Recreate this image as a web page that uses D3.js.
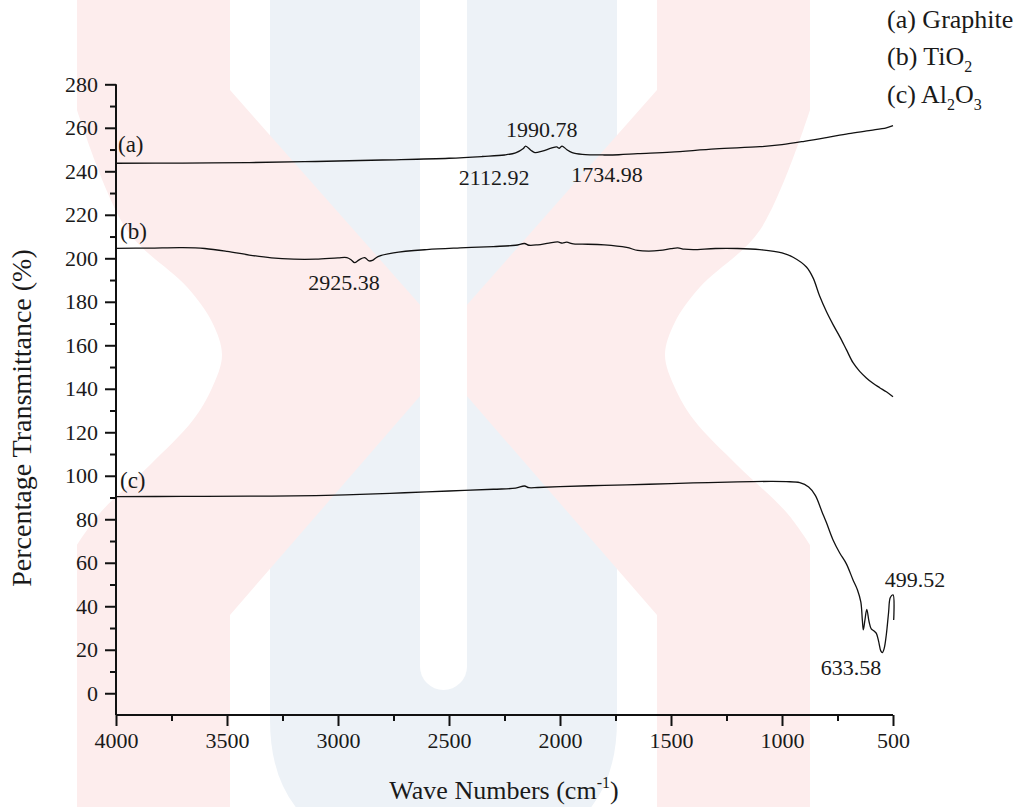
<!DOCTYPE html>
<html>
<head>
<meta charset="utf-8">
<script src="https://cdn.jsdelivr.net/npm/d3@7"></script>
<style>
  html, body { margin: 0; padding: 0; background: #fff; }
  svg { display: block; }
  text { font-family: "Liberation Serif", "Times New Roman", serif; fill: #1a1a1a; }
</style>
</head>
<body>
<svg id="chart" width="1025" height="807"></svg>
<script>
// FTIR spectra: wavenumber (cm-1) vs. percentage transmittance, curves offset vertically.

// (a) Graphite
const waveA  = [4000, 3700, 3400, 3100, 2800, 2500, 2350, 2250, 2200, 2165, 2155, 2130, 2112.92, 2080, 2040, 2015, 2003, 1990.78, 1970, 1945, 1900, 1800, 1734.98, 1650, 1500, 1300, 1100, 1000, 900, 800, 700, 600, 530, 500];
const transA = [243.7, 243.8, 244.0, 244.5, 245.2, 246.0, 246.8, 247.5, 248.5, 250.5, 251.6, 249.6, 248.6, 249.3, 250.6, 251.2, 250.6, 251.6, 250.0, 248.6, 247.8, 247.5, 247.6, 248.1, 248.8, 250.3, 251.3, 252.3, 253.8, 255.5, 257.3, 258.8, 260.0, 261.0];

// (b) TiO2
const waveB  = [4000, 3850, 3700, 3600, 3500, 3400, 3300, 3200, 3100, 3000, 2960, 2940, 2925.38, 2905, 2880, 2860, 2845, 2820, 2750, 2600, 2450, 2300, 2200, 2160, 2140, 2100, 2050, 2010, 1990, 1970, 1940, 1900, 1800, 1700, 1650, 1600, 1550, 1500, 1470, 1440, 1400, 1300, 1200, 1100, 1000, 950, 890, 860, 830, 800, 770, 740, 710, 680, 650, 620, 590, 560, 530, 500];
const transB = [204.6, 204.7, 204.9, 204.5, 203.2, 201.5, 200.2, 199.6, 199.6, 200.2, 200.3, 199.2, 198.0, 199.3, 200.3, 198.8, 199.0, 200.8, 202.5, 204.0, 204.8, 205.4, 206.0, 206.8, 206.0, 206.2, 207.0, 207.5, 207.0, 207.4, 206.6, 206.5, 206.2, 205.0, 203.6, 203.3, 203.6, 204.4, 204.8, 204.2, 204.0, 204.5, 204.5, 204.0, 202.5, 200.5, 196.0, 191.0, 182.5, 175.5, 169.5, 164.0, 158.0, 152.0, 148.0, 145.0, 142.5, 140.5, 138.6, 136.3];

// (c) Al2O3
const waveC  = [4000, 3700, 3400, 3100, 2900, 2700, 2500, 2300, 2200, 2160, 2140, 2100, 2000, 1800, 1600, 1400, 1200, 1050, 980, 920, 880, 850, 820, 800, 770, 740, 710, 680, 660, 645, 638, 633.58, 626, 618, 608, 598, 585, 575, 565, 555, 548, 540, 530, 520, 512, 499.52, 497];
const transC = [90.4, 90.5, 90.6, 90.9, 91.4, 92.2, 93.0, 93.8, 94.3, 95.3, 94.5, 94.6, 95.0, 95.6, 96.1, 96.7, 97.2, 97.4, 97.3, 96.8, 94.8, 91.0, 83.5, 78.5, 70.5, 64.5, 59.5, 52.1, 47.5, 42.0, 33.5, 29.1, 34.0, 38.6, 33.0, 29.6, 28.6, 27.5, 24.0, 19.5, 18.7, 20.5, 27.0, 37.0, 44.0, 45.2, 33.7];

// Axis ticks
const xMajorTicks = [4000, 3500, 3000, 2500, 2000, 1500, 1000, 500];
const xMinorTicks = [3750, 3250, 2750, 2250, 1750, 1250, 750];
const yMajorTicks = [0, 20, 40, 60, 80, 100, 120, 140, 160, 180, 200, 220, 240, 260, 280];
const yMinorTicks = [10, 30, 50, 70, 90, 110, 130, 150, 170, 190, 210, 230, 250, 270];

// Peak annotations: text, wavenumber anchor, transmittance anchor (baseline)
const peakText  = ["1990.78", "2112.92", "1734.98", "2925.38", "499.52", "633.58"];
const peakWave  = [2082, 2297, 1788, 2973, 401, 689];
const peakLevel = [255.9, 233.7, 235.2, 185.4, 49.0, 8.4];

// Curve tags
const tagText  = ["(a)", "(b)", "(c)"];
const tagWave  = [3991, 3982, 3982];
const tagLevel = [248.9, 208.9, 94.4];

const svg = d3.select("#chart");

// ---- faint emblem in the background ----
const bg = svg.append("g").attr("class", "emblem");
const pink = "#fdeded", blue = "#edf2f7";

// blue U
bg.append("path")
  .attr("d", "M270,-10 L617,-10 L617,720 Q617,860 443.5,860 Q270,860 270,720 Z")
  .attr("fill", blue);

// chevron outline (left one), mirrored for the right one
const notch = d3.line().curve(d3.curveCatmullRom.alpha(0.5))([
  [77, 545], [100, 513], [150, 465], [193, 420], [212, 388], [222, 355],
  [212, 322], [187, 287], [127, 230], [77, 110]
]);
const chevron = "M77,-10 L230,-10 L230,90 L460,350 L230,615 L230,820 L77,820 L77,545 " +
  notch.replace(/^M[^CL]*/, "") + " Z";
bg.append("path").attr("d", chevron).attr("fill", pink);
bg.append("path").attr("d", chevron).attr("fill", pink)
  .attr("transform", "translate(887,0) scale(-1,1)");

// centre slot
bg.append("rect")
  .attr("x", 420).attr("y", -60).attr("width", 47).attr("height", 750)
  .attr("rx", 23.5).attr("fill", "#fff");

// ---- scales ----
const x = d3.scaleLinear().domain([4000, 500]).range([116, 893]);
const y = d3.scaleLinear().domain([-10, 280]).range([715, 84.3]);

// ---- axes ----
const axisColor = "#111";
const gx = svg.append("g").attr("transform", `translate(0,${y(-10)})`);
gx.call(d3.axisBottom(x).tickValues(xMajorTicks).tickSize(11).tickSizeOuter(0).tickPadding(6).tickFormat(d3.format("d")));
gx.append("g").call(d3.axisBottom(x).tickValues(xMinorTicks).tickSize(6).tickSizeOuter(0).tickFormat(""))
  .select(".domain").remove();

const gy = svg.append("g").attr("transform", `translate(${x(4000)},0)`);
gy.call(d3.axisLeft(y).tickValues(yMajorTicks).tickSize(11).tickSizeOuter(0).tickPadding(7).tickFormat(d3.format("d")));
gy.append("g").call(d3.axisLeft(y).tickValues(yMinorTicks).tickSize(6).tickSizeOuter(0).tickFormat(""))
  .select(".domain").remove();

svg.selectAll(".domain").attr("stroke", axisColor).attr("stroke-width", 2);
svg.selectAll(".tick line").attr("stroke", axisColor).attr("stroke-width", 2);
gx.selectAll(".tick text").attr("font-size", 22).attr("font-family", "Liberation Serif").attr("fill", "#1a1a1a");
gy.selectAll(".tick text").attr("font-size", 22).attr("font-family", "Liberation Serif").attr("fill", "#1a1a1a");
// axis lines span the full ranges
gy.select(".domain").attr("d", `M0,${y(-10)}V${y(280)}`);
gx.select(".domain").attr("d", `M${x(4000)},0H${x(500)}`);

// ---- spectra ----
const line = d3.line()
  .x(d => x(d[0]))
  .y(d => y(d[1]))
  .curve(d3.curveCatmullRom.alpha(0.5));

const series = [
  d3.zip(waveA, transA),
  d3.zip(waveB, transB),
  d3.zip(waveC, transC)
];
svg.append("g").selectAll("path.spectrum")
  .data(series)
  .join("path")
  .attr("class", "spectrum")
  .attr("d", line)
  .attr("fill", "none")
  .attr("stroke", "#111")
  .attr("stroke-width", 1.3)
  .attr("stroke-linejoin", "round");

// ---- curve tags ----
svg.append("g").selectAll("text")
  .data(d3.range(tagText.length))
  .join("text")
  .attr("x", i => x(tagWave[i]))
  .attr("y", i => y(tagLevel[i]))
  .attr("font-size", 23)
  .text(i => tagText[i]);

// ---- peak labels ----
svg.append("g").selectAll("text")
  .data(d3.range(peakText.length))
  .join("text")
  .attr("x", i => x(peakWave[i]))
  .attr("y", i => y(peakLevel[i]))
  .attr("text-anchor", "middle")
  .attr("font-size", 22)
  .text(i => peakText[i]);

// ---- legend ----
const legend = svg.append("g").attr("font-size", 26);
legend.append("text").attr("x", 887).attr("y", 28).text("(a) Graphite");
const lb = legend.append("text").attr("x", 887).attr("y", 65);
lb.append("tspan").text("(b) TiO");
lb.append("tspan").attr("font-size", 16).attr("dy", 7).text("2");
const lc = legend.append("text").attr("x", 887).attr("y", 103);
lc.append("tspan").text("(c) Al");
lc.append("tspan").attr("font-size", 16).attr("dy", 7).text("2");
lc.append("tspan").attr("dy", -7).text("O");
lc.append("tspan").attr("font-size", 16).attr("dy", 7).text("3");

// ---- axis titles ----
const xt = svg.append("text")
  .attr("x", 504).attr("y", 799)
  .attr("text-anchor", "middle")
  .attr("font-size", 26);
xt.append("tspan").text("Wave Numbers (cm");
xt.append("tspan").attr("font-size", 16).attr("dy", -11).text("-1");
xt.append("tspan").attr("dy", 11).text(")");

svg.append("text")
  .attr("transform", "translate(31,418) rotate(-90)")
  .attr("text-anchor", "middle")
  .attr("font-size", 28)
  .text("Percentage Transmittance (%)");
</script>
</body>
</html>
